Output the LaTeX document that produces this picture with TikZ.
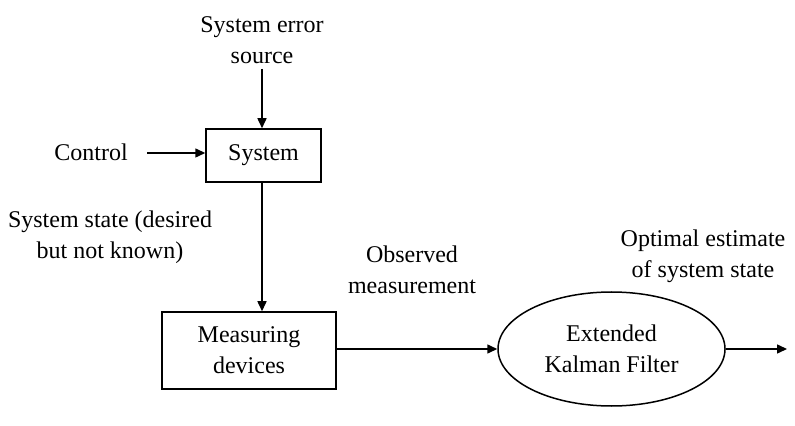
\documentclass[tikz,border=0pt]{standalone}
\usepackage{fontspec}
\setmainfont{Liberation Serif}
\usetikzlibrary{arrows.meta,shapes.geometric,positioning}
\begin{document}
\begin{tikzpicture}[
  x=0.5pt,y=-0.5pt,
  font=\fontsize{12}{15.5}\selectfont,
  block/.style={draw,line width=0.75pt,align=center,inner sep=0pt},
  label/.style={align=center,inner sep=0pt},
  flow/.style={draw,line width=0.75pt,-{Triangle[length=5pt,width=4.5pt]}},
  >=Triangle]
\useasboundingbox (0,0) rectangle (795,426);
\node[block,minimum width=57.5pt,minimum height=26.5pt] (sys) at (263.5,155.5) {System};
\node[block,minimum width=87pt,minimum height=38.5pt] (meas) at (249,350.5) {Measuring\\devices};
\node[block,ellipse,minimum width=113.5pt,minimum height=57pt] (ekf) at (611.5,349) {Extended\\Kalman Filter};
\node[label] (err) at (262,40) {System error\\source};
\node[label] (ctrl) at (91,152) {Control};
\node[label] (state) at (110,237) {System state (desired\\but not known)};
\node[label] (obs) at (412,270) {Observed\\measurement};
\node[label] (opt) at (703,256) {Optimal estimate\\of system state};
\coordinate (out) at (787,349);
% connectors
\draw[flow] (err.south) ++(0,5) coordinate (errs) -- (errs |- sys.north);
\draw[flow] (147,153) coordinate (ctrls) -- (ctrls -| sys.west);
\draw[flow] (sys.south -| 262,0) -- (meas.north -| 262,0);
\draw[flow] (meas.east |- ekf.west) -- (ekf.west);
\draw[flow] (ekf.east) -- (out);
\end{tikzpicture}
\end{document}
